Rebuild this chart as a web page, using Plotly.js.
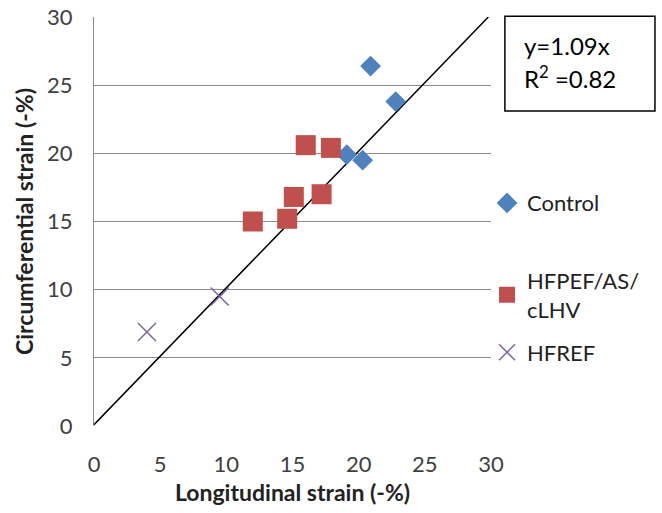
<!DOCTYPE html>
<html><head><meta charset="utf-8">
<script src="https://cdn.plot.ly/plotly-3.0.1.min.js"></script>
<style>body{margin:0;background:#fff}#chart{width:662px;height:513px}</style>
</head><body><div id="chart"></div>
<script>
const controlX = [20.9, 22.8, 19.1, 20.3];
const controlY = [26.4, 23.8, 19.9, 19.5];
const hfpefX = [12.0, 14.6, 15.1, 16.0, 17.9, 17.2];
const hfpefY = [15.0, 15.2, 16.8, 20.6, 20.4, 17.0];
const hfrefX = [4.0, 9.5];
const hfrefY = [6.9, 9.5];
const trendX = [0, 29.8];
const trendY = [0.1, 30];
const tickVals = [0, 5, 10, 15, 20, 25, 30];

const FONT = 'Lato, "Open Sans", sans-serif';
const traces = [
  {x: trendX, y: trendY, mode: 'lines', line: {color: '#000', width: 1.5}, showlegend: false, hoverinfo: 'skip'},
  {x: controlX, y: controlY, mode: 'markers', name: 'Control', legend: 'legend',
   marker: {symbol: 'diamond', size: 16, color: '#4F81BD'}},
  {x: hfpefX, y: hfpefY, mode: 'markers', name: 'HFPEF/AS/<br>cLHV', legend: 'legend2',
   marker: {symbol: 'square', size: 20, color: '#C0504D'}},
  {x: hfrefX, y: hfrefY, mode: 'markers', name: 'HFREF', legend: 'legend3',
   marker: {symbol: 'x-thin', size: 18, color: '#8064A2', line: {color: '#8064A2', width: 1.5}}}
];
const legBase = {bgcolor: 'rgba(0,0,0,0)', font: {family: FONT, size: 22, color: '#222'},
  xanchor: 'left', yanchor: 'middle', itemwidth: 30, tracegroupgap: 0};
const layout = {
  width: 662, height: 513,
  margin: {l: 93.5, r: 171, t: 17, b: 87},
  paper_bgcolor: '#fff', plot_bgcolor: '#fff',
  font: {family: FONT, size: 22, color: '#333'},
  xaxis: {range: [0, 30], tickvals: tickVals, showgrid: false, zeroline: false,
    showline: false, ticks: '', ticklabelstandoff: 23,
    tickfont: {family: FONT, size: 22, color: '#404040'},
    title: {text: '<b>Longitudinal strain (-%)</b>', font: {family: FONT, size: 23, color: '#222'}, standoff: 8}},
  yaxis: {range: [0, 30], tickvals: tickVals, showgrid: true, gridcolor: '#8c8c8c', gridwidth: 1,
    zeroline: false, showline: true, linecolor: '#8c8c8c', linewidth: 1, ticks: '', ticklabelstandoff: 16,
    tickfont: {family: FONT, size: 22, color: '#404040'},
    title: {text: '<b>Circumferential strain (-%)</b>', font: {family: FONT, size: 23, color: '#222'}, standoff: 7}},
  legend: Object.assign({}, legBase, {x: 0.99, y: 0.545}),
  legend2: Object.assign({}, legBase, {x: 0.99, y: 0.32}),
  legend3: Object.assign({}, legBase, {x: 0.99, y: 0.18}),
  shapes: [{type: 'rect', xref: 'paper', yref: 'paper', x0: 1.035, x1: 1.413, y0: 0.770, y1: 1.002,
    line: {color: '#000', width: 1.5}, fillcolor: 'rgba(0,0,0,0)'}],
  annotations: [
    {xref: 'paper', yref: 'paper', x: 1.078, y: 0.93, xanchor: 'left', yanchor: 'middle', showarrow: false,
     text: 'y=1.09x', font: {family: FONT, size: 24, color: '#000'}},
    {xref: 'paper', yref: 'paper', x: 1.078, y: 0.853, xanchor: 'left', yanchor: 'middle', showarrow: false,
     text: 'R<sup>2</sup> =0.82', font: {family: FONT, size: 24, color: '#000'}}
  ],
  showlegend: true
};
Plotly.newPlot('chart', traces, layout, {displayModeBar: false, staticPlot: true});
</script></body></html>
